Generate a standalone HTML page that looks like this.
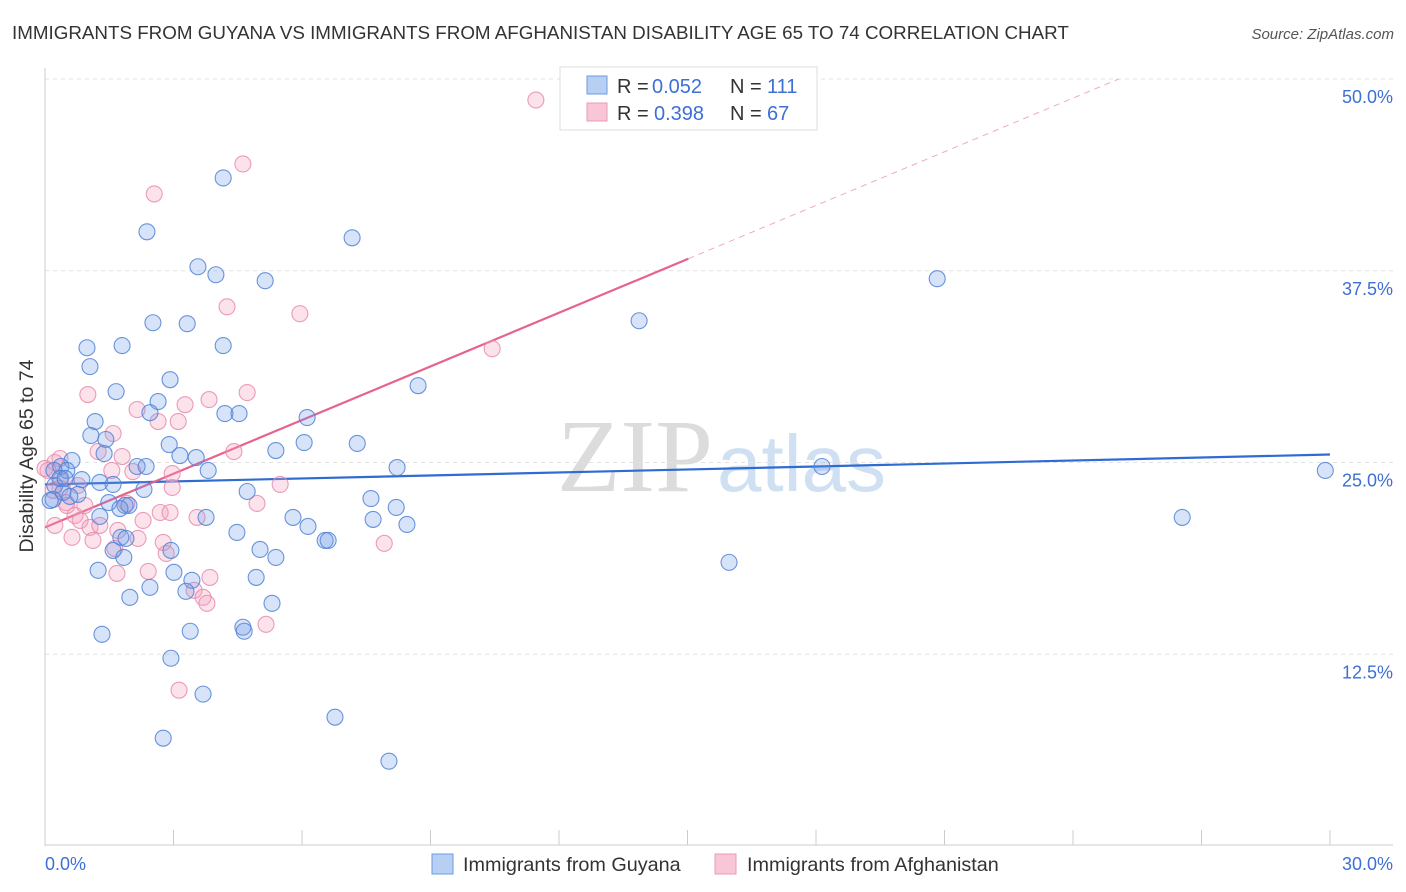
<!DOCTYPE html>
<html><head><meta charset="utf-8"><style>
body{margin:0;background:#fff;font-family:"Liberation Sans",sans-serif;}
#wrap{position:relative;width:1406px;height:892px;overflow:hidden;}
</style></head><body>
<div id="wrap">
<svg id="chart" width="1406" height="892">
<text x="12" y="39" font-size="18.8" fill="#333">IMMIGRANTS FROM GUYANA VS IMMIGRANTS FROM AFGHANISTAN DISABILITY AGE 65 TO 74 CORRELATION CHART</text>
<text x="1394" y="39" font-size="15" fill="#555" font-style="italic" text-anchor="end">Source: ZipAtlas.com</text>
<text x="713" y="491" font-size="104" fill="#dcdcdc" text-anchor="end" font-family="Liberation Serif,serif">ZIP</text>
<text x="717" y="491" font-size="80" fill="#cfe0f3">atlas</text>
<text x="33" y="456" font-size="19.5" fill="#333" text-anchor="middle" transform="rotate(-90 33 456)">Disability Age 65 to 74</text>
<g id="grid"></g><g id="axes"></g><g id="trends"></g><g id="pts"></g>
<g>
<rect x="560" y="67" width="257" height="63" fill="#fff" stroke="#ddd"/>
<rect x="587" y="76" width="20" height="18" fill="#b7cff2" stroke="#6d9be0"/>
<rect x="587" y="103" width="20" height="18" fill="#f8c6d6" stroke="#eb9ab6"/>
<g font-size="20" fill="#333">
<text x="617" y="93">R =</text><text x="652" y="93" fill="#3d6fd6">0.052</text><text x="730" y="93">N =</text><text x="767" y="93" fill="#3d6fd6">111</text>
<text x="617" y="120">R =</text><text x="654" y="120" fill="#3d6fd6">0.398</text><text x="730" y="120">N =</text><text x="767" y="120" fill="#3d6fd6">67</text>
</g>
</g>
<g>
<rect x="432" y="854" width="21" height="20" fill="#b7cff2" stroke="#6d9be0"/>
<text x="463" y="871" font-size="19.8" fill="#333">Immigrants from Guyana</text>
<rect x="715" y="854" width="21" height="20" fill="#f8c6d6" stroke="#eb9ab6"/>
<text x="747" y="871" font-size="19.8" fill="#333">Immigrants from Afghanistan</text>
</g>
</svg></div>
<script>
const yTicks=[12.5,25,37.5,50];
const yTickLabels=["12.5%","25.0%","37.5%","50.0%"];
const xTickCount=10;
const blueX=[4.16,2.38,7.17,3.57,3.99,5.14,20.83,2.52,3.32,13.87,0.98,1.80,4.16,1.05,2.92,1.66,8.71,2.64,2.45,4.20,4.53,6.12,1.17,1.07,1.42,2.90,7.29,6.05,1.38,3.15,3.53,5.39,0.63,0.37,0.51,2.15,2.36,0.21,0.86,1.28,3.81,8.22,18.14,29.89,0.23,0.42,0.77,0.58,0.19,1.59,2.31,1.49,1.87,1.96,1.28,1.75,4.72,7.61,8.20,3.76,5.79,7.66,8.45,6.14,26.55,4.48,1.77,1.89,2.94,5.02,1.59,6.54,6.61,1.84,5.39,1.24,15.97,3.01,3.43,4.93,2.45,1.98,3.29,5.30,1.33,3.39,4.62,4.65,2.94,3.69,6.77,2.76,8.03,0.35,0.12,0.47];
const blueY=[43.55,40.04,39.65,37.76,37.24,36.85,36.98,34.11,34.05,34.24,32.48,32.62,32.62,31.25,30.40,29.62,30.01,28.97,28.25,28.19,28.19,27.93,27.67,26.76,26.50,26.17,26.24,26.30,25.58,25.45,25.32,25.78,25.13,24.74,24.48,24.74,24.74,24.48,23.89,23.70,24.48,24.67,24.74,24.48,23.50,23.05,22.92,22.79,22.59,23.57,23.24,22.39,22.20,22.20,21.48,22.00,23.11,22.65,22.07,21.42,21.42,21.29,20.96,20.83,21.42,20.44,20.12,20.05,19.27,19.33,19.27,19.92,19.92,18.81,18.81,17.97,18.49,17.84,17.32,17.51,16.86,16.21,16.60,15.82,13.80,14.00,14.26,14.00,12.24,9.90,8.40,7.03,5.53,23.96,22.52,23.96];
const pinkX=[11.46,4.62,2.55,4.25,5.95,10.44,1.00,4.72,3.83,3.27,2.15,2.64,3.11,1.59,4.41,1.24,1.80,0.35,0.23,0.07,2.05,1.56,2.97,5.49,2.97,0.37,0.35,0.77,0.19,4.95,1.91,0.49,0.70,2.69,2.29,2.92,3.55,0.82,1.05,1.28,0.23,0.63,1.70,1.12,1.63,2.83,2.76,7.92,2.41,3.85,1.68,3.48,3.69,3.78,5.16,3.13,2.17,0.93,0.51,0.0];
const pinkY=[48.63,44.46,42.51,35.15,34.70,32.42,29.43,29.56,29.10,28.77,28.45,27.67,27.67,26.89,25.71,25.71,25.39,25.26,25.00,24.48,24.41,24.48,24.28,23.57,23.37,23.96,23.31,23.50,23.18,22.33,22.33,22.39,21.55,21.74,21.22,21.74,21.42,21.22,20.77,20.90,20.90,20.12,20.57,19.92,19.40,19.07,19.79,19.73,17.90,17.51,17.77,16.67,16.21,15.82,14.45,10.16,20.05,22.20,22.20,24.61];
const blueTrend=[23.57,0.065];
const pinkTrend=[20.77,1.166];
const NS="http://www.w3.org/2000/svg";
const X0=45,X1=1330,Y0=846,Ytop=79;
function sx(v){return X0+(X1-X0)*v/30;}
function sy(v){return Y0-(Y0-Ytop)*v/50;}
function mk(t,a,p){const e=document.createElementNS(NS,t);for(const k in a)e.setAttribute(k,a[k]);p.appendChild(e);return e;}
const grid=document.getElementById('grid'),axes=document.getElementById('axes');
yTicks.forEach((t,i)=>{
 const l=mk('line',{x1:45,x2:1393,y1:sy(t),y2:sy(t),stroke:'#e2e2e2','stroke-dasharray':'4,4'},grid);
 
 
 const tx=mk('text',{x:1393,y:sy(t)+24,'font-size':18,fill:'#3d6fd6','text-anchor':'end'},axes);
 tx.textContent=yTickLabels[i];
 
 
});
mk('line',{x1:45,x2:45,y1:68,y2:846,stroke:'#ccc'},axes);
const xa=mk('line',{x1:45,x2:1393,y1:845,y2:845,stroke:'#ccc'},axes);


for(let k=1;k<=xTickCount;k++){mk('line',{x1:sx(k*3),x2:sx(k*3),y1:830,y2:845,stroke:'#ccc'},axes);}
let t0=mk('text',{x:45,y:870,'font-size':18,fill:'#3d6fd6'},axes);t0.textContent='0.0%';


let t1=mk('text',{x:1393,y:870,'font-size':18,fill:'#3d6fd6','text-anchor':'end'},axes);t1.textContent='30.0%';


const pts=document.getElementById('pts');
function draw(xs,ys,fill,stroke,name){xs.forEach((x,i)=>{const c=mk('circle',{cx:sx(x),cy:sy(ys[i]),r:8,fill:fill,stroke:stroke,'stroke-width':1.1},pts);
 
 });}
draw(pinkX,pinkY,'rgba(244,160,190,0.3)','rgba(230,140,175,0.85)','afghanistan-point');
draw(blueX,blueY,'rgba(110,155,230,0.28)','rgba(80,130,215,0.85)','guyana-point');
const tr=document.getElementById('trends');
const bl=mk('line',{x1:sx(0),y1:sy(blueTrend[0]),x2:sx(30),y2:sy(blueTrend[0]+30*blueTrend[1]),stroke:'#2f6bd3','stroke-width':2.2},tr);


const pEnd=15.02, pDash=(50-pinkTrend[0])/pinkTrend[1];
const pl=mk('line',{x1:sx(0),y1:sy(pinkTrend[0]),x2:sx(pEnd),y2:sy(pinkTrend[0]+pEnd*pinkTrend[1]),stroke:'#e6628f','stroke-width':2.2},tr);


const pd=mk('line',{x1:sx(pEnd),y1:sy(pinkTrend[0]+pEnd*pinkTrend[1]),x2:sx(pDash),y2:sy(50),stroke:'#eeaabf','stroke-width':1,'stroke-dasharray':'6,5'},tr);


</script>
</body></html>
